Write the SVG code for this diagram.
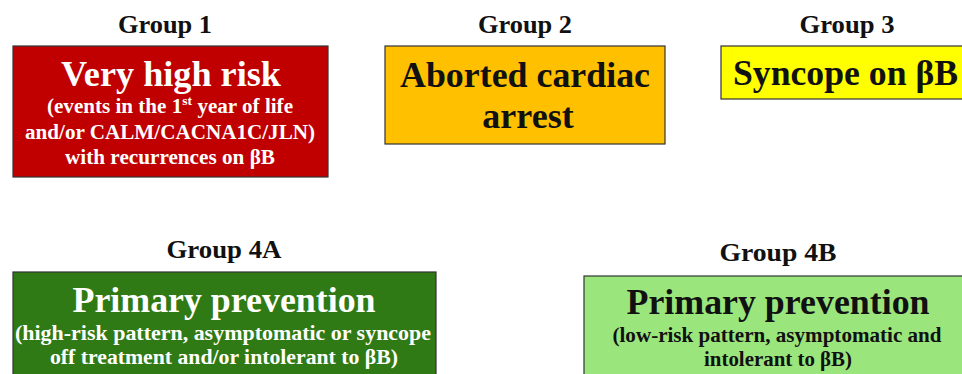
<svg xmlns="http://www.w3.org/2000/svg" width="962" height="374" viewBox="0 0 962 374">
<style>
text{font-family:"Liberation Serif","Times New Roman",serif;font-weight:bold;text-anchor:middle}
.lbl{font-size:26px;fill:#111}
.box{stroke:#333;stroke-width:1.2}
.big{font-size:36px}
.sub{font-size:20px}
.sub2{font-size:21px}
.w{fill:#fff}
.k{fill:#111}
</style>
<rect width="962" height="374" fill="#fff"/>
<g id="group1">
<text class="lbl" x="165" y="33" textLength="94" lengthAdjust="spacingAndGlyphs">Group 1</text>
<rect class="box" x="13" y="46" width="315" height="131" fill="#C00000"/>
<text class="big w" x="171" y="86" textLength="220" lengthAdjust="spacingAndGlyphs">Very high risk</text>
<text class="sub w" x="170" y="113" textLength="246" lengthAdjust="spacingAndGlyphs">(events in the 1<tspan font-size="13" dy="-8">st</tspan><tspan dy="8"> year of life</tspan></text>
<text class="sub w" x="170" y="139" textLength="290" lengthAdjust="spacingAndGlyphs">and/or CALM/CACNA1C/JLN)</text>
<text class="sub w" x="170" y="164" textLength="210" lengthAdjust="spacingAndGlyphs">with recurrences on βB</text>
</g>
<g id="group2">
<text class="lbl" x="525" y="33" textLength="94" lengthAdjust="spacingAndGlyphs">Group 2</text>
<rect class="box" x="385" y="46" width="280" height="98" fill="#FFC000"/>
<text class="big k" x="525" y="87" textLength="250" lengthAdjust="spacingAndGlyphs">Aborted cardiac</text>
<text class="big k" x="528" y="128">arrest</text>
</g>
<g id="group3">
<text class="lbl" x="847" y="33" textLength="95" lengthAdjust="spacingAndGlyphs">Group 3</text>
<rect class="box" x="721" y="46" width="250" height="53" fill="#FFFF00"/>
<text class="big k" x="845.5" y="85" textLength="225" lengthAdjust="spacingAndGlyphs">Syncope on βB</text>
</g>
<g id="group4a">
<text class="lbl" x="224" y="258" textLength="115" lengthAdjust="spacingAndGlyphs">Group 4A</text>
<rect class="box" x="13" y="272" width="423" height="120" fill="#2F7A14"/>
<text class="big w" x="224" y="312" textLength="303" lengthAdjust="spacingAndGlyphs">Primary prevention</text>
<text class="sub2 w" x="223" y="340" textLength="416" lengthAdjust="spacingAndGlyphs">(high-risk pattern, asymptomatic or syncope</text>
<text class="sub2 w" x="224" y="364" textLength="348" lengthAdjust="spacingAndGlyphs">off treatment and/or intolerant to βB)</text>
</g>
<g id="group4b">
<text class="lbl" x="778" y="261" textLength="117" lengthAdjust="spacingAndGlyphs">Group 4B</text>
<rect class="box" x="584" y="276" width="390" height="120" fill="#9BE57D"/>
<text class="big k" x="778" y="314" textLength="303" lengthAdjust="spacingAndGlyphs">Primary prevention</text>
<text class="sub2 k" x="777" y="342" textLength="329" lengthAdjust="spacingAndGlyphs">(low-risk pattern, asymptomatic and</text>
<text class="sub2 k" x="778" y="366" textLength="148" lengthAdjust="spacingAndGlyphs">intolerant to βB)</text>
</g>
<g id="connectors"/>
</svg>
